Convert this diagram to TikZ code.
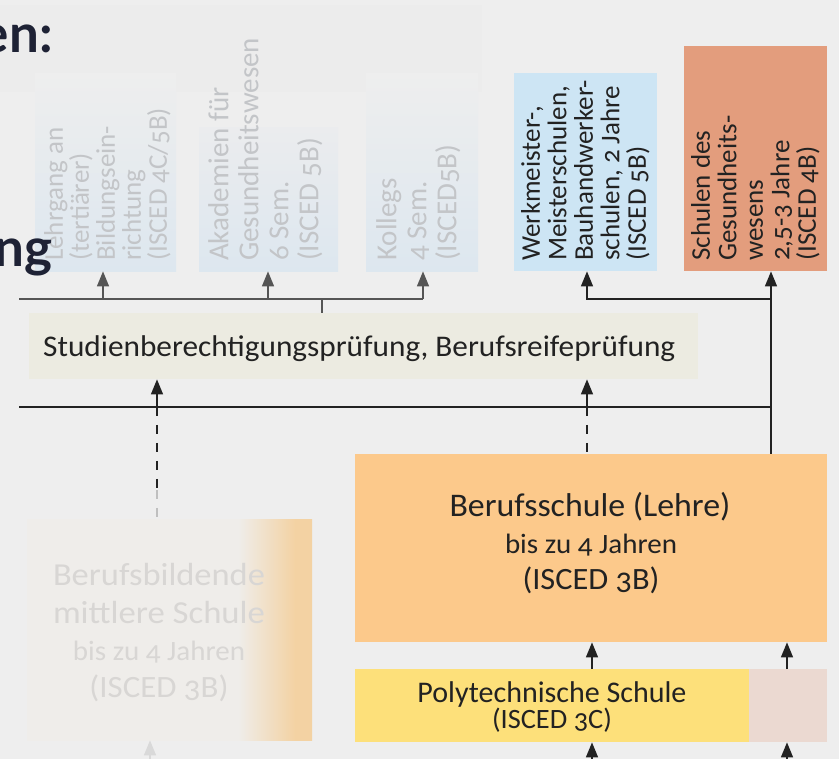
\documentclass[tikz,border=0pt]{standalone}
\usepackage{fontspec}
\usepackage{graphicx}
\setmainfont{Carlito}[Numbers=OldStyle]
\newfontfamily\headfont{Lato}
\usetikzlibrary{arrows.meta}
\newcommand{\fitw}[2]{\resizebox{#1}{\height}{#2}}
\definecolor{bg}{HTML}{EEEEEE}
\definecolor{panel}{HTML}{ECECEC}
\definecolor{fbT}{HTML}{EBECEE}
\definecolor{fbB}{HTML}{DDE7EF}
\definecolor{ftext}{HTML}{C3C5C8}
\definecolor{lblue}{HTML}{CDE5F4}
\definecolor{salmon}{HTML}{E39D7D}
\definecolor{beige}{HTML}{ECEBE1}
\definecolor{orng}{HTML}{FCC98B}
\definecolor{yell}{HTML}{FDE07A}
\definecolor{pinkish}{HTML}{EBD9D1}
\definecolor{ink}{HTML}{222222}
\definecolor{gline}{HTML}{555555}
\definecolor{bbL}{HTML}{EFEDEA}
\definecolor{bbR}{HTML}{F3D2A3}
\definecolor{bbtext}{HTML}{D8D6D4}
\definecolor{navy}{HTML}{1E2235}
\pgfdeclarehorizontalshading{bbshade}{100bp}{color(0bp)=(bbL); color(62bp)=(bbL); color(72bp)=(bbR); color(100bp)=(bbR)}
\begin{document}
\begin{tikzpicture}[x=1pt,y=-1pt,
  box/.style={draw=none,inner sep=0,anchor=north west},
  rtext/.style={align=left,inner sep=0,anchor=north west,rotate=90},
  htext/.style={inner sep=0,anchor=base},
  ln/.style={line width=1.4pt,draw=ink},
  lnG/.style={line width=1.4pt,draw=gline},
  arr/.style={ln,-{Triangle[length=15pt,width=12pt]}},
  arrG/.style={lnG,-{Triangle[length=15pt,width=12pt]}},
  arrF/.style={line width=1.4pt,draw=black!15,-{Triangle[length=15pt,width=12pt]}},
  dsh/.style={ln,dash pattern=on 9pt off 9pt},
  dshL/.style={line width=1.4pt,draw=black!25,dash pattern=on 9pt off 9pt}]
\useasboundingbox (0,0) rectangle (839,759);
\clip (0,0) rectangle (839,759);
\fill[bg] (0,0) rectangle (839,759);
% faint background panels
\fill[panel] (0,5) rectangle (482,92);
\fill[black!3!bg!70!white] (0,280) rectangle (19,490);
% faded top boxes
\node[box,minimum width=141pt,minimum height=198pt,top color=bg,bottom color=fbB] (lg) at (35,73) {};
\node[box,minimum width=139pt,minimum height=144pt,top color=fbT,bottom color=fbB] (ak) at (199,127) {};
\node[box,minimum width=112pt,minimum height=198pt,top color=bg,bottom color=fbB] (ko) at (366,73) {};
\node[rtext,text=ftext,font=\fontsize{27}{26}\selectfont] (lgT) at (44,261) {Lehrgang an\\(tertiärer)\\Bildungsein-\\richtung\\(ISCED 4C/5B)};
\node[rtext,text=ftext,font=\fontsize{29}{30}\selectfont] (akT) at (208,261) {Akademien für\\Gesundheitswesen\\6 Sem.\\(ISCED 5B)};
\node[rtext,text=ftext,font=\fontsize{29}{30}\selectfont] (koT) at (376,261) {Kollegs\\4 Sem.\\(ISCED5B)};
% right top boxes
\node[box,fill=lblue,minimum width=143pt,minimum height=198pt] (wm) at (514,73) {};
\node[box,fill=salmon,minimum width=143pt,minimum height=225pt] (sg) at (684,46) {};
\node[rtext,text=ink,font=\fontsize{27}{26.5}\selectfont] (wmT) at (521,261) {Werkmeister-,\\Meisterschulen,\\Bauhandwerker-\\schulen, 2 Jahre\\(ISCED 5B)};
\node[rtext,text=ink,font=\fontsize{27}{26.5}\selectfont] (sgT) at (691,261) {Schulen des\\Gesundheits-\\wesens\\2,5-3 Jahre\\(ISCED 4B)};
% Studien box
\node[box,fill=beige,minimum width=669pt,minimum height=66pt] (st) at (29,313) {};
\node[inner sep=0,anchor=base west,text=ink,font=\fontsize{30}{32}\selectfont] (stT) at (43,357) {\fitw{632pt}{Studienberechtigungsprüfung, Berufsreifeprüfung}};
% Berufsschule
\node[box,fill=orng,minimum width=472pt,minimum height=188pt] (bs) at (355,454) {};
\node[htext,text=ink,font=\fontsize{33}{36}\selectfont] (bs1) at (590,517) {\fitw{281pt}{Berufsschule (Lehre)}};
\node[htext,text=ink,font=\fontsize{28}{32}\selectfont] (bs2) at (591,553) {\fitw{172pt}{bis zu 4 Jahren}};
\node[htext,text=ink,font=\fontsize{31}{34}\selectfont] (bs3) at (591,590) {\fitw{137pt}{(ISCED 3B)}};
% Polytechnische
\node[box,fill=yell,minimum width=394pt,minimum height=73pt] (pt) at (355,669) {};
\node[box,fill=pinkish,minimum width=78pt,minimum height=73pt] (pk) at (749,669) {};
\node[htext,text=ink,font=\fontsize{30}{32}\selectfont] (pt1) at (552,702) {\fitw{269pt}{Polytechnische Schule}};
\node[htext,text=ink,font=\fontsize{28}{32}\selectfont] (pt2) at (552,728) {\fitw{120pt}{(ISCED 3C)}};
% faded Berufsbildende
\node[box,shading=bbshade,minimum width=285pt,minimum height=221pt] (bb) at (27,519) {};
\node[htext,text=bbtext,font=\fontsize{32}{34}\selectfont] (bb1) at (159,585) {\fitw{212pt}{Berufsbildende}};
\node[htext,text=bbtext,font=\fontsize{32}{34}\selectfont] (bb2) at (159,623) {\fitw{212pt}{mittlere Schule}};
\node[htext,text=bbtext,font=\fontsize{28}{32}\selectfont] (bb3) at (159,660) {\fitw{172pt}{bis zu 4 Jahren}};
\node[htext,text=bbtext,font=\fontsize{31}{34}\selectfont] (bb4) at (159,697) {\fitw{139pt}{(ISCED 3B)}};
% top-left bus
\coordinate (tl0) at (19,299);
\coordinate (tl1) at (423,299);
\coordinate (a1) at (103,299);
\coordinate (a2) at (268,299);
\coordinate (t1) at (322,299);
\draw[lnG] (tl0) -- (tl1);
\draw[arrG] (a1) -- (a1 |- lg.south);
\draw[arrG] (a2) -- (a2 |- ak.south);
\draw[arrG] (tl1) -- (tl1 |- ko.south);
\draw[lnG] (t1) -- (t1 |- st.north);
% right bus
\coordinate (r1) at (771,299);
\coordinate (r2) at (587,299);
\draw[arr] (r1 |- bs.north) -- (r1 |- sg.south);
\draw[arr] (r1) -- (r2) -- (r2 |- wm.south);
% middle bus
\coordinate (m0) at (19,407);
\coordinate (m1) at (771,407);
\coordinate (m2) at (157,407);
\coordinate (m2b) at (157,490);
\coordinate (m3) at (587,407);
\draw[ln] (m0) -- (m1);
\draw[arr] (m2) -- (m2 |- st.south);
\draw[arr] (m3) -- (m3 |- st.south);
\draw[dsh] (m3) -- (m3 |- bs.north);
\draw[dsh] (m2) -- (m2b);
\draw[dshL] (m2b) -- (m2b |- bb.north);
% lower arrows
\coordinate (p1) at (592,759);
\coordinate (p2) at (787,759);
\coordinate (f1) at (150,759);
\draw[arr] (p1) -- (p1 |- pt.south);
\draw[arr] (p2) -- (p2 |- pk.south);
\draw[arr] (p1 |- pt.north) -- (p1 |- bs.south);
\draw[arr] (p2 |- pk.north) -- (p2 |- bs.south);
\draw[arrF] (f1) -- (f1 |- bb.south);
% heading fragments
\node[inner sep=0,anchor=base east,text=navy,font=\headfont\bfseries\fontsize{53}{60}\selectfont] (h1) at (53,53) {en:};
\node[inner sep=0,anchor=base east,text=navy,font=\headfont\bfseries\fontsize{53}{60}\selectfont] (h2) at (53,267) {ng};
\end{tikzpicture}
\end{document}
